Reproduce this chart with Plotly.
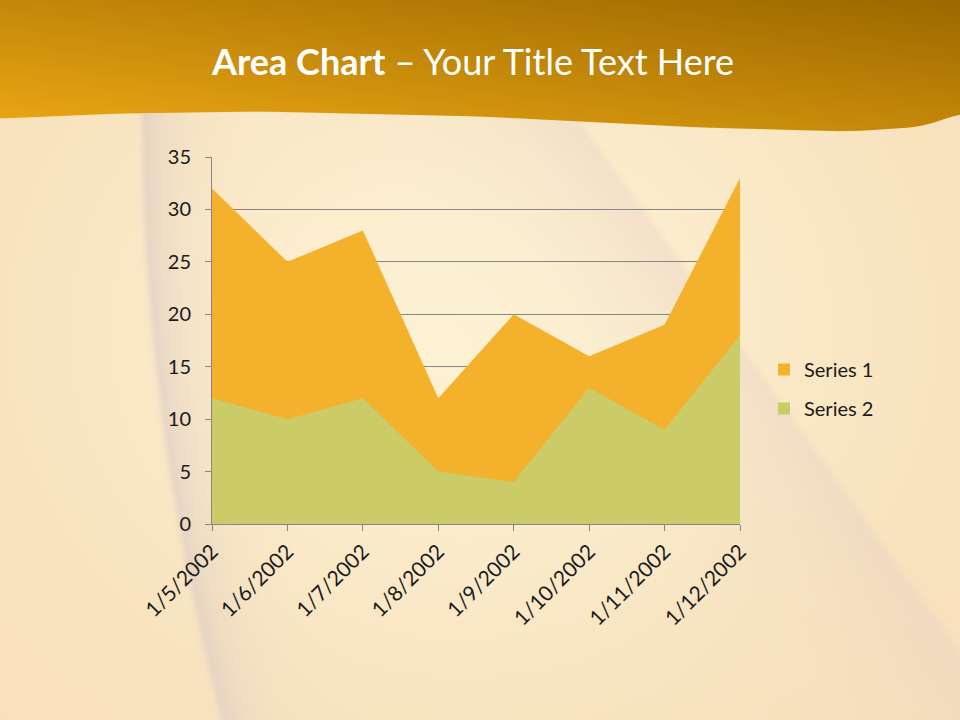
import numpy as np, zlib, struct, base64
import plotly.graph_objects as go

# ---- data ----
categories = ["1/5/2002", "1/6/2002", "1/7/2002", "1/8/2002",
              "1/9/2002", "1/10/2002", "1/11/2002", "1/12/2002"]
series1 = [32, 25, 28, 12, 20, 16, 19, 33]
series2 = [12, 10, 12, 5, 4, 13, 9, 18]
y_ticks = [0, 5, 10, 15, 20, 25, 30, 35]
colors = ["#F3B12C", "#CBCB67"]
names = ["Series 1", "Series 2"]

# ---- decorative background (gradient image) ----
W, H = 960, 720
yy, xx = np.mgrid[0:H, 0:W].astype(float)
peach = np.array([248, 224, 186.0])
light = np.array([253, 242, 212.0])
w = np.exp(-((xx - 470) / 380) ** 2 - ((yy - 330) / 330) ** 2)
img = peach * (1 - w[..., None]) + light * w[..., None]

# shadow band 1 (left curved)
xc = 146 + 80 * ((yy - 110) / 610) ** 2
d = xx - xc
s1 = np.where(d < 0, np.exp(-(d / 6) ** 2), np.exp(-d / 30)) * (yy > 100)
shade = np.array([214, 198, 198.0])
img = img * (1 - 0.5 * s1[..., None]) + shade * 0.5 * s1[..., None]

# shadow band 2 (diagonal right)
x0, y0, x1, y1 = 565, 110, 960, 660
nx, ny = (y1 - y0), -(x1 - x0)
nrm = np.hypot(nx, ny)
dist = -((xx - x0) * nx + (yy - y0) * ny) / nrm
s2 = np.where(dist < 0, np.exp(-(dist / 6) ** 2), np.exp(-dist / 80)) * (yy > 100)
shade2 = np.array([228, 204, 196.0])
img = img * (1 - 0.35 * s2[..., None]) + shade2 * 0.35 * s2[..., None]

# header band with wavy bottom
px = [0, 120, 260, 480, 700, 850, 925, 960]
py = [118, 113, 111, 116, 127, 131, 126, 112]
xs = np.arange(W)
yb = np.interp(xs, px, py)
k = np.ones(41) / 41
yb = np.convolve(np.pad(yb, 20, mode="edge"), k, mode="valid")
t = np.clip(0.5 * (xx / W) + 0.5 * (1 - yy / 130), 0, 1)
bright = np.array([236, 168, 20.0])
dark = np.array([156, 105, 0.0])
hcol = bright * (1 - t[..., None]) + dark * t[..., None]
a = np.clip((yb[None, :] - yy) + 0.5, 0, 1)
img = img * (1 - a[..., None]) + hcol * a[..., None]

img = np.clip(img, 0, 255).astype(np.uint8)


def png_bytes(arr):
    h, w_ = arr.shape[:2]
    raw = b"".join(b"\x00" + arr[r].tobytes() for r in range(h))

    def chunk(tag, data):
        c = struct.pack(">I", len(data)) + tag + data
        return c + struct.pack(">I", zlib.crc32(tag + data) & 0xffffffff)
    return (b"\x89PNG\r\n\x1a\n" + chunk(b"IHDR", struct.pack(">IIBBBBB", w_, h, 8, 2, 0, 0, 0))
            + chunk(b"IDAT", zlib.compress(raw, 9)) + chunk(b"IEND", b""))


bg_uri = "data:image/png;base64," + base64.b64encode(png_bytes(img)).decode()

# ---- figure ----
L, R, T, B = 212, 220, 157, 196
pw, ph = W - L - R, H - T - B
xi = list(range(len(categories)))

fig = go.Figure()
for name, vals, col in zip(names, [series1, series2], colors):
    fig.add_trace(go.Scatter(x=xi, y=vals, name=name, mode="none",
                             fill="tozeroy", fillcolor=col, showlegend=False))
for i, (name, col) in enumerate(zip(names, colors)):
    fig.add_trace(go.Scatter(x=[None], y=[None], name=name, mode="markers",
                             marker=dict(symbol="square", size=12, color=col),
                             legendgroup=f"g{i}", showlegend=True))

font = "Lato, 'Open Sans', sans-serif"
fig.update_layout(
    width=W, height=H,
    margin=dict(l=L, r=R, t=T, b=B, pad=0),
    paper_bgcolor="#FBE9C4",
    plot_bgcolor="rgba(0,0,0,0)",
    font=dict(family=font, size=19, color="#1a1a1a"),
    showlegend=True,
    legend=dict(x=(764 - L) / pw, y=(524 - 389) / ph, xanchor="left", yanchor="middle",
                bgcolor="rgba(0,0,0,0)", font=dict(size=20, color="#1a1a1a"),
                traceorder="grouped", tracegroupgap=10, itemwidth=30),
    images=[dict(source=bg_uri, xref="paper", yref="paper",
                 x=-L / pw, y=1 + T / ph, sizex=W / pw, sizey=H / ph,
                 xanchor="left", yanchor="top", sizing="stretch", layer="below")],
    annotations=[dict(text="<b>Area Chart</b> – Your Title Text Here",
                      xref="paper", yref="paper", x=(472 - L) / pw, y=1 + (T - 61) / ph,
                      xanchor="center", yanchor="middle", showarrow=False,
                      font=dict(family=font, size=36, color="white"))],
)
fig.update_xaxes(range=[0, len(categories) - 1], tickmode="array", tickvals=xi,
                 ticktext=categories, tickangle=-45, showgrid=False,
                 showline=True, linecolor="#868686", linewidth=1,
                 ticks="outside", ticklen=6, tickcolor="#868686",
                 tickfont=dict(size=21), zeroline=False)
fig.update_yaxes(range=[0, 35], tickmode="array", tickvals=y_ticks,
                 showgrid=True, gridcolor="#868686", gridwidth=1,
                 showline=True, linecolor="#868686", linewidth=1,
                 ticks="outside", ticklen=6, tickcolor="#868686",
                 tickfont=dict(size=20), ticklabelstandoff=10, zeroline=False)

fig.write_html("out.html", config={"displayModeBar": False},
               post_script="document.body.style.margin='0';document.body.style.padding='0';")
